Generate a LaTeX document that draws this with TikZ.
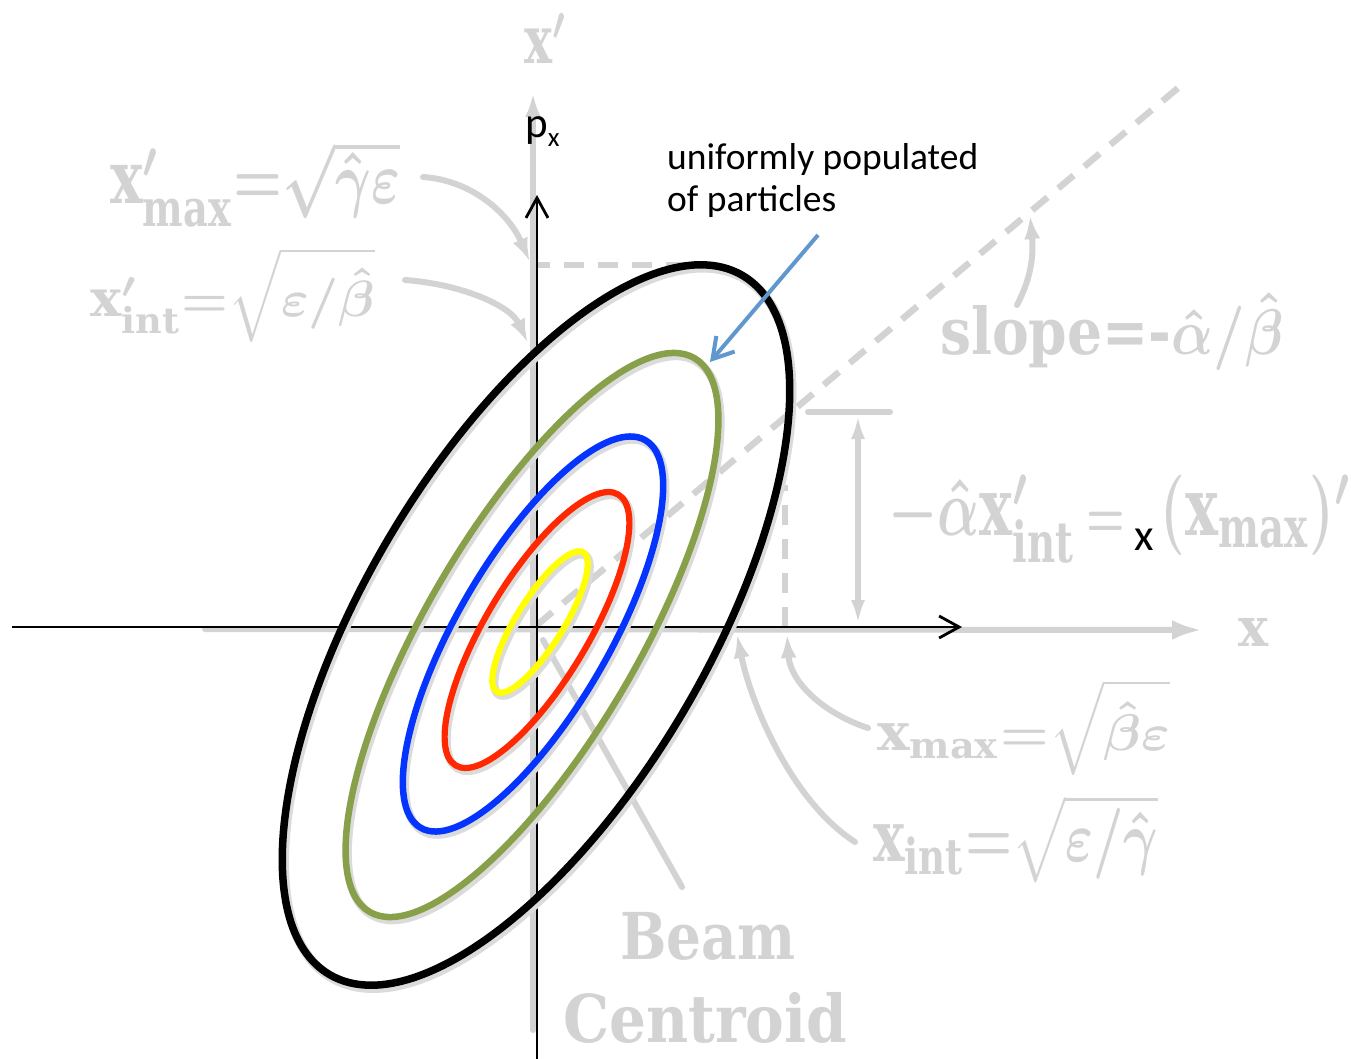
\documentclass[tikz,border=0pt]{standalone}
\usepackage{fontspec}
\usepackage{amsmath}
\usepackage{graphicx}
\usetikzlibrary{arrows.meta}
\newfontfamily\calib{Carlito}
\newfontfamily\scanfont{DejaVu Serif}
\definecolor{scan}{RGB}{211,211,211}
\definecolor{ellgreen}{RGB}{137,160,75}
\definecolor{ellblue}{RGB}{5,52,255}
\definecolor{ellred}{RGB}{255,40,0}
\definecolor{ellyellow}{RGB}{255,255,0}
\definecolor{callout}{RGB}{96,151,204}
\newcommand\scx{\text{\scanfont\bfseries x}}
\newcommand\sct[1]{\text{\scanfont\bfseries #1}}
\newcommand\scanbox[3]{\resizebox*{#1pt}{#2pt}{#3}}
\tikzset{
  scanline/.style={draw=scan, line width=6pt, line cap=round},
  scandash/.style={draw=scan, line width=6.5pt, dash pattern=on 20pt off 14pt},
  scantip/.style={-{Latex[length=24pt,width=16pt]}},
  scanlabel/.style={anchor=north west, inner sep=0pt, text=scan},
  axisline/.style={draw=black, line width=2.8pt, -{Straight Barb[length=20pt,width=22pt]}},
  calloutarrow/.style={draw=callout, line width=4pt, -{Straight Barb[length=20pt,width=24pt]}},
  blacktext/.style={inner sep=0pt, anchor=base west, text=black},
}
\begin{document}
\begin{tikzpicture}[x=1pt,y=-1pt]
\useasboundingbox (0,0) rectangle (1351,1059);
\fill[white] (0,0) rectangle (1351,1059);

% ---------- faded scanned figure ----------
\coordinate (gyS) at (533,1030);
\coordinate (gyE) at (533,93);
\coordinate (gxS) at (205,629);
\coordinate (gxE) at (1202,630);
\draw[scanline, scantip] (gyS) -- (gyE);
\draw[scanline, -{Latex[length=30pt,width=20pt]}] (gxS) -- (gxE);
\coordinate (slS) at (537,625);
\coordinate (slE) at (1178,88);
\draw[scandash] (slS) -- (slE);
\coordinate (hdS) at (530,265);
\coordinate (hdE) at (700,265);
\draw[scandash] (hdS) -- (hdE);
\coordinate (vdS) at (785,627);
\coordinate (vdE) at (785,485);
\draw[scandash] (vdS) -- (vdE);
\coordinate (tkS) at (808,412);
\coordinate (tkE) at (890,412);
\draw[scanline] (tkS) -- (tkE);
\coordinate (dmS) at (858,415);
\coordinate (dmE) at (858,624);
\draw[scanline, {Latex[length=24pt,width=14pt]}-{Latex[length=24pt,width=14pt]}] (dmS) -- (dmE);

% curved pointers
\coordinate (c1S) at (423,177); \coordinate (c1E) at (530,262);
\draw[scanline, scantip] (c1S) .. controls (470,180) and (508,212) .. (c1E);
\coordinate (c2S) at (405,280); \coordinate (c2E) at (528,343);
\draw[scanline, scantip] (c2S) .. controls (460,284) and (510,305) .. (c2E);
\coordinate (c3S) at (1017,305); \coordinate (c3E) at (1030,215);
\draw[scanline, scantip] (c3S) .. controls (1030,280) and (1034,258) .. (c3E);
\coordinate (c4S) at (868,728); \coordinate (c4E) at (787,634);
\draw[scanline, scantip] (c4S) .. controls (820,712) and (790,680) .. (c4E);
\coordinate (c5S) at (855,842); \coordinate (c5E) at (737,634);
\draw[scanline, scantip] (c5S) .. controls (790,800) and (750,700) .. (c5E);
\coordinate (bcS) at (682,887); \coordinate (bcE) at (543,640);
\draw[scanline] (bcS) -- (bcE);

% scanned labels
\node[scanlabel] (gxp) at (524,13) {\scanbox{43}{50}{\boldmath$\scx'$}};
\node[scanlabel] (gxl) at (1238,618) {\scanbox{30}{28}{\scanfont\bfseries x}};
\node[scanlabel] (lxpmax) at (110,140) {\scanbox{290}{87}{\boldmath$\scx'_{\sct{max}}{=}\sqrt{\hat{\gamma}\varepsilon}$}};
\node[scanlabel] (lxpint) at (90,248) {\scanbox{285}{94}{\boldmath$\scx'_{\sct{int}}{=}\sqrt{\varepsilon/\hat{\beta}}$}};
\node[scanlabel] (lslope) at (940,293) {\scanbox{343}{77}{\boldmath{\scanfont\bfseries slope=-}$\hat{\alpha}/\hat{\beta}$}};
\node[scanlabel] (lalpha) at (888,475) {\scanbox{464}{88}{\boldmath$-\hat{\alpha}\scx'_{\sct{int}}\,{\scriptstyle=}\;\;(\scx_{\sct{max}})'$}};
\node[scanlabel] (lxmax) at (877,680) {\scanbox{293}{95}{\boldmath$\scx_{\sct{max}}{=}\sqrt{\hat{\beta}\varepsilon}$}};
\node[scanlabel] (lxint) at (873,795) {\scanbox{285}{88}{\boldmath$\scx_{\sct{int}}{=}\sqrt{\varepsilon/\hat{\gamma}}$}};
\node[scanlabel] (lbeam) at (620,912) {\scanbox{175}{48}{\scanfont\bfseries Beam}};
\node[scanlabel] (lcent) at (563,992) {\scanbox{284}{51}{\scanfont\bfseries Centroid}};

% ---------- black axes ----------
\coordinate (xS) at (12,627);
\coordinate (xE) at (962,627);
\coordinate (yS) at (537,1059);
\coordinate (yE) at (537,195);
\draw[axisline] (xS) -- (xE);
\draw[axisline] (yS) -- (yE);

% ---------- ellipses ----------
\foreach \cx/\cy/\ra/\rb/\ang/\lw in {536/625/406/171/59.4/7.5, 532/635/321/106/59.6/6.5, 533/634/224/76/59.9/6.5, 537/630/158/51/59.0/6.2, 540/622/82/23.5/58.1/6.2}{
  \draw[black!14, line width=\lw pt+2pt, shift={(\cx+2,\cy+3)}, rotate=\ang] (0,0) ellipse [x radius=\ra, y radius=\rb];
}
\foreach \cx/\cy/\ra/\rb/\ang/\lw/\col in {536/625/406/171/59.4/7.5/black, 532/635/321/106/59.6/6.5/ellgreen, 533/634/224/76/59.9/6.5/ellblue, 537/630/158/51/59.0/6.2/ellred, 540/622/82/23.5/58.1/6.2/ellyellow}{
  \draw[\col, line width=\lw pt, shift={(\cx,\cy)}, rotate=\ang] (0,0) ellipse [x radius=\ra, y radius=\rb];
}

% ---------- labels ----------
\node[blacktext] (px) at (525,138) {\calib\fontsize{43}{43}\selectfont p\raisebox{-9pt}{\fontsize{27}{27}\selectfont x}};
\node[blacktext] (xl) at (1134,550) {\calib\fontsize{45}{45}\selectfont x};
\node[blacktext] (pop1) at (667,170) {\calib\fontsize{37.5}{42}\selectfont uniformly populated};
\node[blacktext] (pop2) at (667,212) {\calib\fontsize{37.5}{42}\selectfont of particles};
\coordinate (cS) at (818,235);
\coordinate (cE) at (710,362);
\draw[calloutarrow] (cS) -- (cE);
\end{tikzpicture}
\end{document}
